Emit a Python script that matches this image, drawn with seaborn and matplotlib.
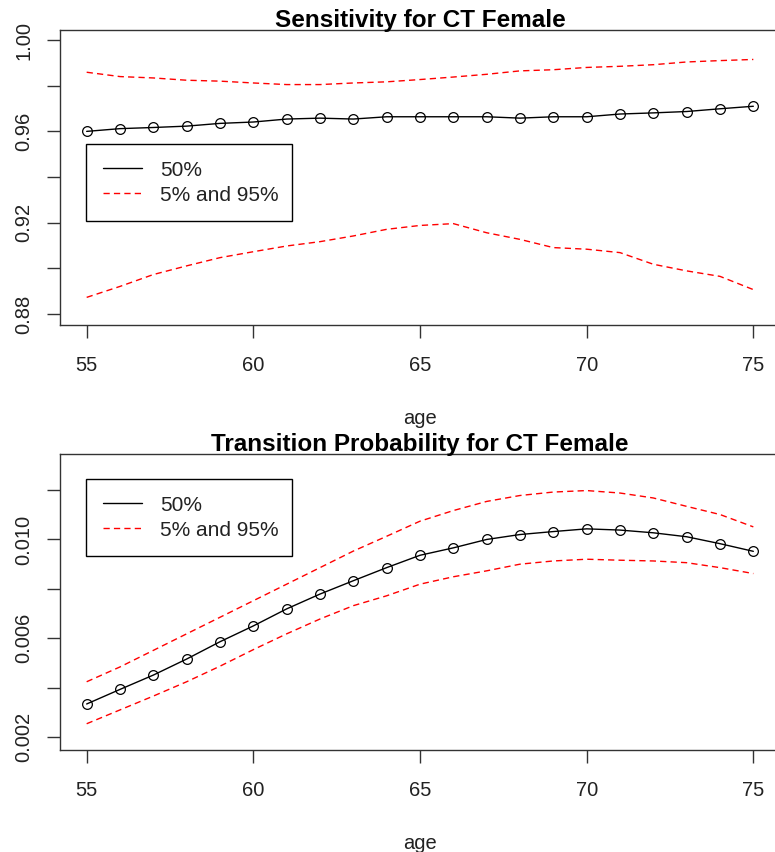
import numpy as np
import pandas as pd
import matplotlib
matplotlib.use("Agg")
import matplotlib.pyplot as plt
import seaborn as sns
from matplotlib.lines import Line2D
from matplotlib.ticker import FixedLocator, FixedFormatter

# ---------------- data ----------------
ages = list(range(55, 76))

sens_median = [0.9600, 0.9612, 0.9617, 0.9623, 0.9635, 0.9641, 0.9654, 0.9658, 0.9654,
               0.9664, 0.9664, 0.9664, 0.9664, 0.9658, 0.9664, 0.9664, 0.9676, 0.9681,
               0.9687, 0.9699, 0.9710]
sens_upper = [0.9859, 0.9840, 0.9834, 0.9824, 0.9820, 0.9812, 0.9805, 0.9805, 0.9812,
              0.9817, 0.9827, 0.9838, 0.9850, 0.9865, 0.9870, 0.9880, 0.9885, 0.9892,
              0.9904, 0.9910, 0.9915]
sens_lower = [0.8873, 0.8921, 0.8973, 0.9011, 0.9047, 0.9073, 0.9098, 0.9117, 0.9142,
              0.9171, 0.9188, 0.9196, 0.9156, 0.9127, 0.9091, 0.9084, 0.9069, 0.9018,
              0.8989, 0.8965, 0.8907]

trans_median = [0.00334, 0.00393, 0.00451, 0.00516, 0.00586, 0.00650, 0.00719, 0.00779,
                0.00833, 0.00886, 0.00936, 0.00966, 0.01000, 0.01020, 0.01032, 0.01043,
                0.01038, 0.01027, 0.01011, 0.00983, 0.00952]
trans_upper = [0.00424, 0.00484, 0.00551, 0.00618, 0.00685, 0.00752, 0.00819, 0.00886,
               0.00953, 0.01013, 0.01074, 0.01117, 0.01154, 0.01178, 0.01192, 0.01198,
               0.01188, 0.01168, 0.01134, 0.01101, 0.01051]
trans_lower = [0.00254, 0.00310, 0.00366, 0.00424, 0.00487, 0.00554, 0.00618, 0.00678,
               0.00732, 0.00772, 0.00819, 0.00849, 0.00873, 0.00900, 0.00913, 0.00920,
               0.00916, 0.00913, 0.00906, 0.00886, 0.00862]

titles = ["Sensitivity for CT Female", "Transition Probability for CT Female"]
xlabel = "age"
legend_labels = ["50%", "5% and 95%"]
x_ticks = [55, 60, 65, 70, 75]
sens_yticks = [0.88, 0.90, 0.92, 0.94, 0.96, 0.98, 1.00]
sens_yticklabels = ["0.88", "", "0.92", "", "0.96", "", "1.00"]
trans_yticks = [0.002, 0.004, 0.006, 0.008, 0.010, 0.012]
trans_yticklabels = ["0.002", "", "0.006", "", "0.010", ""]

# ---------------- style ----------------
sns.set_style("white")
plt.rcParams["font.family"] = ["Liberation Sans", "DejaVu Sans"]
plt.rcParams["axes.edgecolor"] = "#333333"
plt.rcParams["axes.linewidth"] = 1.0

DASH = (0, (4.5, 3.0))

W, H = 775, 852
fig = plt.figure(figsize=(W / 100, H / 100), dpi=100)

def fx(px):
    return px / W

def fy(py):
    return 1 - py / H

ax1 = fig.add_axes([fx(60), fy(325), fx(780) - fx(60), fy(30) - fy(325)])
ax2 = fig.add_axes([fx(60), fy(750), fx(780) - fx(60), fy(454) - fy(750)])

panels = [
    (ax1, sens_median, sens_upper, sens_lower, (0.8752, 1.0044), sens_yticks, sens_yticklabels, 0.614),
    (ax2, trans_median, trans_upper, trans_lower, (0.001477, 0.01346), trans_yticks, trans_yticklabels, 0.916),
]

for i, (ax, med, up, lo, ylim, yt, ytl, leg_y) in enumerate(panels):
    df = pd.DataFrame({"age": ages, "med": med, "up": up, "lo": lo})
    sns.lineplot(data=df, x="age", y="med", ax=ax, color="black", lw=1.0,
                 marker="o", markersize=7, markerfacecolor="none",
                 markeredgecolor="black", markeredgewidth=0.9)
    sns.lineplot(data=df, x="age", y="up", ax=ax, color="red", lw=1.0,
                 linestyle=DASH)
    sns.lineplot(data=df, x="age", y="lo", ax=ax, color="red", lw=1.0,
                 linestyle=DASH)

    ax.set_xlim(54.2, 75.8)
    ax.set_ylim(*ylim)
    ax.xaxis.set_major_locator(FixedLocator(x_ticks))
    ax.set_xticklabels([str(t) for t in x_ticks])
    ax.yaxis.set_major_locator(FixedLocator(yt))
    ax.yaxis.set_major_formatter(FixedFormatter(ytl))
    ax.tick_params(axis="both", direction="out", length=9.5, width=1.0,
                   color="#333333", labelcolor="#222222", labelsize=14.5)
    ax.tick_params(axis="x", pad=13, bottom=True)
    ax.tick_params(axis="y", pad=9.5, left=True)
    for lab in ax.get_yticklabels():
        lab.set_rotation(90)
        lab.set_va("center")
    for s in ax.spines.values():
        s.set_visible(True)
        s.set_color("#333333")
        s.set_linewidth(1.0)
    ax.spines["right"].set_visible(False)

    ax.set_ylabel("")
    ax.set_xlabel(xlabel, fontsize=14.5, color="#222222", labelpad=24)
    ax.set_title(titles[i], fontsize=17.5, fontweight="bold", color="black", pad=2)

    handles = [Line2D([], [], color="black", lw=1.0),
               Line2D([], [], color="red", lw=1.0, linestyle=DASH)]
    leg = ax.legend(handles=handles, labels=legend_labels,
                    loc="upper left", bbox_to_anchor=(0.0361, 0.0, 0.2857, leg_y),
                    mode="expand", borderaxespad=0, fontsize=15, frameon=True,
                    fancybox=False, handlelength=1.9, handletextpad=0.85,
                    borderpad=0.8, labelspacing=0.3, framealpha=1)
    leg.get_frame().set_edgecolor("black")
    leg.get_frame().set_linewidth(1.0)
    for t in leg.get_texts():
        t.set_color("#222222")

fig.savefig("out.png", dpi=100)
